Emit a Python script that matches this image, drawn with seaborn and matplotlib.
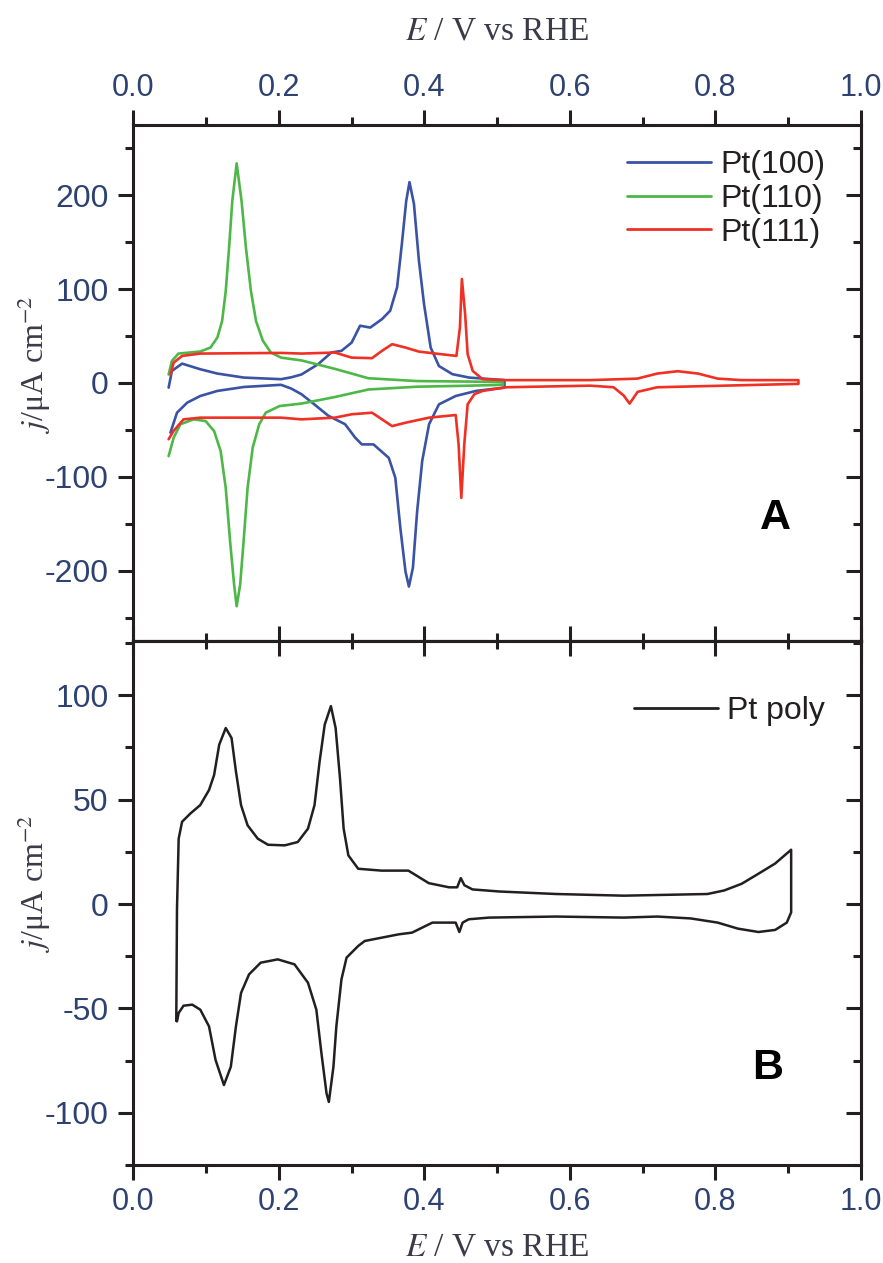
import numpy as np
import pandas as pd
import seaborn as sns
import matplotlib
matplotlib.use("Agg")
import matplotlib.pyplot as plt
from matplotlib.ticker import MultipleLocator

# ---------------- data ----------------
# Pt(100)
pt100_up_E = [0.0485, 0.053, 0.067, 0.092, 0.1155, 0.152, 0.203, 0.217, 0.231, 0.254, 0.272, 0.286,
              0.300, 0.3116, 0.3255, 0.3417, 0.353, 0.3625, 0.369, 0.375, 0.3795, 0.3856, 0.3925,
              0.3995, 0.4086, 0.420, 0.4386, 0.4618, 0.510]
pt100_up_j = [-5, 12.8, 20.6, 14.6, 10, 5.7, 4, 6, 9, 20, 32.4, 34.2,
              43, 61, 59, 68, 77, 102, 148, 194, 214, 191, 130,
              84, 37.7, 18, 9.3, 5.7, 3]
pt100_dn_E = [0.051, 0.060, 0.074, 0.092, 0.1155, 0.152, 0.203, 0.217, 0.231, 0.249, 0.268, 0.291,
              0.305, 0.314, 0.330, 0.351, 0.360, 0.367, 0.374, 0.3787, 0.3842, 0.390, 0.397,
              0.4064, 0.420, 0.443, 0.471, 0.510]
pt100_dn_j = [-53, -31.7, -21, -13.9, -8.5, -4.3, -2, -6, -12, -23, -35, -44,
              -58.4, -65.5, -65.5, -79.8, -101, -155, -201, -217, -197, -137, -83,
              -44, -22.8, -13.9, -8.5, -5]
# Pt(110)
pt110_up_E = [0.0485, 0.053, 0.062, 0.092, 0.106, 0.1155, 0.122, 0.127, 0.1316, 0.136, 0.142,
              0.1487, 0.1547, 0.1616, 0.1686, 0.178, 0.189, 0.203, 0.231, 0.277, 0.323, 0.390,
              0.457, 0.508]
pt110_up_j = [9, 23.5, 31.3, 33.5, 37.7, 48.4, 66, 98, 144.5, 194, 234,
              194, 144.5, 98, 66, 45, 32.4, 27, 24, 15, 5, 2,
              1.5, 1]
pt110_dn_E = [0.0485, 0.0554, 0.0647, 0.083, 0.0993, 0.111, 0.120, 0.127, 0.133, 0.1385, 0.142,
              0.1468, 0.1515, 0.157, 0.164, 0.173, 0.182, 0.201, 0.231, 0.277, 0.323, 0.390,
              0.457, 0.508]
pt110_dn_j = [-78, -58.4, -44, -38.8, -40.6, -51.3, -72.6, -112, -169, -215, -238,
              -215, -169, -112, -69, -44, -31.7, -24.6, -22, -15, -7, -4,
              -3, -2]
# Pt(111)
pt111_up_E = [0.051, 0.0554, 0.067, 0.092, 0.203, 0.231, 0.277, 0.300, 0.328, 0.3417, 0.3556,
              0.374, 0.3925, 0.4155, 0.444, 0.4488, 0.4515, 0.456, 0.4594, 0.4664, 0.480, 0.5125,
              0.628, 0.6925, 0.720, 0.748, 0.776, 0.803, 0.836, 0.914]
pt111_up_j = [9, 21.7, 28.8, 31.3, 32, 31.3, 32.4, 27, 26.4, 34.2, 41.3,
              37.7, 33.4, 31.3, 28.8, 59, 110.8, 73, 30.7, 12.8, 4, 3,
              3, 4.6, 10, 12.5, 10, 4.6, 3, 3]
pt111_dn_E = [0.0485, 0.0554, 0.069, 0.092, 0.203, 0.231, 0.277, 0.300, 0.328, 0.3417, 0.3556,
              0.374, 0.4064, 0.443, 0.447, 0.4507, 0.4548, 0.4594, 0.4687, 0.480, 0.5125, 0.628,
              0.660, 0.674, 0.682, 0.693, 0.720, 0.914]
pt111_dn_j = [-60, -51, -38.8, -37, -37, -38.8, -37, -33.4, -31.7, -38.8, -46,
              -42.4, -37, -34.2, -65.5, -122.5, -65.5, -22.8, -12, -8.5, -4.6, -2.9,
              -4.6, -13.5, -22, -9.5, -4.6, -1]
# Pt poly
poly_up_E = [0.059, 0.060, 0.0623, 0.067, 0.0785, 0.092, 0.104, 0.111, 0.118, 0.127, 0.135,
             0.141, 0.148, 0.157, 0.171, 0.185, 0.208, 0.226, 0.240, 0.249, 0.256, 0.263,
             0.2715, 0.278, 0.284, 0.289, 0.2955, 0.309, 0.341, 0.378, 0.392, 0.406, 0.434,
             0.445, 0.450, 0.455, 0.466, 0.503, 0.581, 0.674, 0.789, 0.812, 0.836, 0.859,
             0.882, 0.904]
poly_up_j = [-56, -2.4, 31.3, 39.4, 43.4, 47.4, 54.6, 61.8, 76.3, 84.3, 79.5,
             63.5, 47.4, 37.7, 31.3, 28.4, 28.1, 29.7, 36.1, 47.4, 68.3, 85.9,
             94.8, 84.3, 60.2, 36.1, 23.3, 16.9, 16, 16, 13, 10, 8,
             8, 12.4, 9, 7, 6, 4.8, 4, 4.8, 6.5, 9.7, 14.5,
             19.4, 26]
poly_dn_E = [0.060, 0.0623, 0.069, 0.081, 0.092, 0.104, 0.113, 0.1245, 0.134, 0.141, 0.148,
             0.159, 0.175, 0.1985, 0.2215, 0.240, 0.2515, 0.2585, 0.2655, 0.2687, 0.275, 0.279,
             0.286, 0.293, 0.309, 0.318, 0.365, 0.383, 0.411, 0.443, 0.448, 0.4525, 0.461,
             0.489, 0.581, 0.674, 0.720, 0.766, 0.803, 0.831, 0.859, 0.882, 0.898, 0.904]
poly_dn_j = [-56.2, -52.2, -48.7, -48.2, -50.6, -58.6, -74.7, -86.7, -77.9, -58.6, -42.6,
             -33.7, -28.1, -26.5, -28.9, -37.7, -50.6, -71.5, -90.7, -94.8, -77.9, -58.6,
             -36.1, -25.7, -20.1, -17.7, -14.5, -13.7, -8.9, -8.9, -13.4, -8.9, -7.3,
             -6.5, -6, -6.5, -6, -6.9, -8.9, -11.8, -13.4, -12.4, -8.9, -4]

top_labels = ["Pt(100)", "Pt(110)", "Pt(111)"]
bottom_label = "Pt poly"
x_ticks = [0.0, 0.2, 0.4, 0.6, 0.8, 1.0]
top_y_ticks = [-200, -100, 0, 100, 200]
bottom_y_ticks = [-100, -50, 0, 50, 100]


def cv_loop(name, upE, upj, dnE, dnj):
    # anodic sweep then the cathodic sweep travelling back
    return pd.DataFrame({"E": list(upE) + list(dnE)[::-1],
                         "j": list(upj) + list(dnj)[::-1],
                         "surface": name})


df_top = pd.concat([
    cv_loop(top_labels[0], pt100_up_E, pt100_up_j, pt100_dn_E, pt100_dn_j),
    cv_loop(top_labels[1], pt110_up_E, pt110_up_j, pt110_dn_E, pt110_dn_j),
    cv_loop(top_labels[2], pt111_up_E, pt111_up_j, pt111_dn_E, pt111_dn_j),
], ignore_index=True)
df_bot = cv_loop(bottom_label, poly_up_E, poly_up_j, poly_dn_E, poly_dn_j)

# ---------------- style ----------------
sns.set_theme(style="ticks")
plt.rcParams["font.family"] = ["Liberation Sans", "DejaVu Sans"]
plt.rcParams["mathtext.fontset"] = "stix"
plt.rcParams["axes.unicode_minus"] = False

SPINE = "#231f20"
TICKC = "#2e4272"
LABC = "#3a3a48"
palette = {top_labels[0]: "#3a53a4", top_labels[1]: "#4db848", top_labels[2]: "#ee3124"}

fig = plt.figure(figsize=(8.83, 12.63), dpi=100)
ax1 = fig.add_axes([0.151, 0.4925, 0.8241, 0.4086])
ax2 = fig.add_axes([0.151, 0.0776, 0.8241, 0.4149])

sns.lineplot(data=df_top, x="E", y="j", hue="surface", palette=palette, sort=False,
             estimator=None, lw=1.9, ax=ax1)
sns.lineplot(data=df_bot, x="E", y="j", hue="surface", palette={bottom_label: "#231f20"},
             sort=False, estimator=None, lw=1.8, ax=ax2)
for ax in (ax1, ax2):
    for ln in ax.lines:
        ln.set_solid_joinstyle("round")

ax1.set_xlim(0, 1)
ax2.set_xlim(0, 1)
ax1.set_ylim(-275, 275)
ax2.set_ylim(-125, 126)

XTICKFS = 22
YTICKFS = 23
MAJL, MINL, TW = 10.8, 6.0, 2.2


def style_axes(ax, xlabel_side, ymin, yticks):
    for s in ax.spines.values():
        s.set_linewidth(TW)
        s.set_color(SPINE)
    ax.set_xticks(x_ticks)
    ax.xaxis.set_minor_locator(MultipleLocator(0.1))
    ax.set_yticks(yticks)
    ax.yaxis.set_minor_locator(MultipleLocator(ymin))
    top = xlabel_side == "top"
    ax.tick_params(axis="x", which="both", direction="out", top=top, bottom=not top,
                   labeltop=top, labelbottom=not top, width=TW, color=SPINE,
                   labelsize=XTICKFS, labelcolor=TICKC, pad=5)
    ax.tick_params(axis="y", which="both", direction="out", left=True, right=False,
                   labelleft=True, labelright=False, width=TW, color=SPINE,
                   labelsize=YTICKFS, labelcolor=TICKC, pad=7)
    ax.tick_params(which="major", length=MAJL)
    ax.tick_params(which="minor", length=MINL)
    if top:
        ax.xaxis.set_label_position("top")
    # inward ticks on the opposite sides
    sx = ax.secondary_xaxis("bottom" if top else "top")
    sx.set_xticks(x_ticks)
    sx.xaxis.set_minor_locator(MultipleLocator(0.1))
    sx.tick_params(which="both", direction="in", width=TW, color=SPINE,
                   labelbottom=False, labeltop=False)
    sx.tick_params(which="major", length=MAJL)
    sx.tick_params(which="minor", length=MINL)
    for s in sx.spines.values():
        s.set_linewidth(TW)
        s.set_color(SPINE)
    sy = ax.secondary_yaxis("right")
    sy.set_yticks(yticks)
    sy.yaxis.set_minor_locator(MultipleLocator(ymin))
    sy.tick_params(which="both", direction="in", width=TW, color=SPINE,
                   labelright=False, labelleft=False)
    sy.tick_params(which="major", length=MAJL)
    sy.tick_params(which="minor", length=MINL)
    for s in sy.spines.values():
        s.set_linewidth(TW)
        s.set_color(SPINE)


style_axes(ax1, "top", 50, top_y_ticks)
style_axes(ax2, "bottom", 25, bottom_y_ticks)

xlab = r"$E$ / V vs RHE"
ylab = r"$j$/μA cm$^{-2}$"
for ax in (ax1, ax2):
    ax.set_xlabel(xlab, fontfamily="Liberation Serif", fontsize=24, color=LABC)
    ax.set_ylabel(ylab, fontfamily="Liberation Serif", fontsize=23, color=LABC)
    ax.yaxis.set_label_coords(-0.11, 0.537)
ax1.xaxis.set_label_coords(0.5, 1.165)
ax2.xaxis.set_label_coords(0.5, -0.128)

leg_kw = dict(loc="upper right", frameon=False, handlelength=2.63, handletextpad=0.28,
              labelspacing=0.12, borderpad=0, borderaxespad=0,
              prop={"family": "Liberation Sans", "size": 23})
h, l = ax1.get_legend_handles_labels()
ax1.legend(h, l, bbox_to_anchor=(0.9505, 0.9516), **leg_kw)
h, l = ax2.get_legend_handles_labels()
ax2.legend(h, l, bbox_to_anchor=(0.9505, 0.895), **leg_kw)
for ax in (ax1, ax2):
    for t in ax.get_legend().get_texts():
        t.set_color("#231f20")
    for ln in ax.get_legend().get_lines():
        ln.set_linewidth(2.0)

ax1.text(0.882, 0.238, "A", transform=ax1.transAxes, ha="center", va="center",
         fontsize=31, fontweight="bold", family="Liberation Sans", color="#000000")
ax2.text(0.872, 0.185, "B", transform=ax2.transAxes, ha="center", va="center",
         fontsize=31, fontweight="bold", family="Liberation Sans", color="#000000")

fig.savefig("out.png", dpi=100, facecolor="white")
